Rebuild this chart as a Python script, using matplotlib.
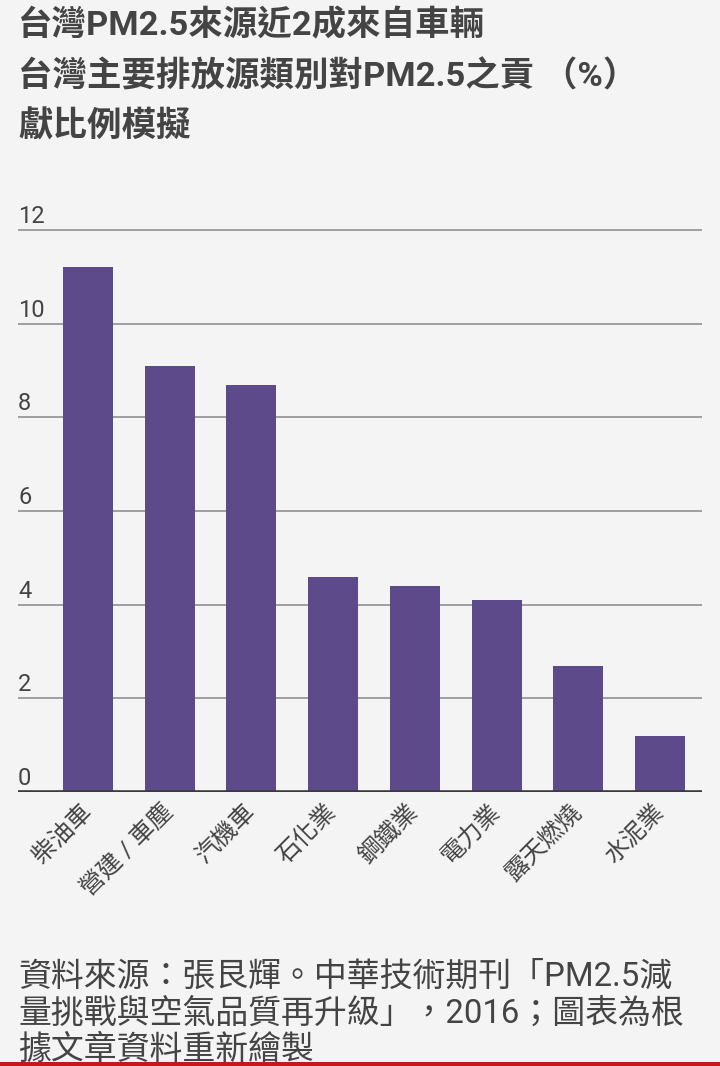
import matplotlib.pyplot as plt
from matplotlib.patches import Rectangle

plt.rcParams['font.family'] = ['Roboto', 'Noto Sans CJK TC', 'DejaVu Sans']

# data
categories = ['柴油車', '營建 / 車塵', '汽機車', '石化業', '鋼鐵業', '電力業', '露天燃燒', '水泥業']
values = [11.2, 9.1, 8.7, 4.6, 4.4, 4.1, 2.7, 1.2]
yticks = [0, 2, 4, 6, 8, 10, 12]

title_lines = ['台灣PM2.5來源近2成來自車輛',
               '台灣主要排放源類別對PM2.5之貢 （%）',
               '獻比例模擬']
source_lines = ['資料來源：張艮輝。中華技術期刊「PM2.5減',
                '量挑戰與空氣品質再升級」，2016；圖表為根',
                '據文章資料重新繪製']

bg = '#f4f4f4'
bar_color = '#5c4a8a'
text_color = '#444444'

W, H = 720, 1066
fig = plt.figure(figsize=(W / 100, H / 100), dpi=100, facecolor=bg)

# axes placement in pixels
left, right, bottom = 18, 702, 792
ymax = 12.6
px_per_unit = (792 - 230) / 12
top = bottom - ymax * px_per_unit
ax = fig.add_axes([left / W, 1 - bottom / H, (right - left) / W, (bottom - top) / H])
ax.set_facecolor(bg)

x = list(range(len(categories)))
ax.bar(x, values, width=0.612, color=bar_color, zorder=3)
ax.set_xlim(-0.857, 7.514)
ax.set_ylim(0, ymax)

for s in ax.spines.values():
    s.set_visible(False)
ax.set_yticks(yticks)
ax.set_yticklabels([])
ax.tick_params(axis='both', length=0)
for v in yticks[1:]:
    ax.axhline(v, color='#9e9e9e', lw=1.4, zorder=1)
ax.axhline(0, color='#3a3a3a', lw=2.6, zorder=4)

for v in yticks:
    ax.annotate(str(v), xy=(0, v), xycoords=('axes fraction', 'data'),
                xytext=(0, 5), textcoords='offset points',
                ha='left', va='baseline', fontsize=17, color=text_color)

ax.set_xticks(x)
ax.set_xticklabels(categories, rotation=45, ha='right', va='center',
                   rotation_mode='anchor', fontsize=17.5, color=text_color)
ax.tick_params(axis='x', pad=12)

# title
for i, line in enumerate(title_lines):
    fig.text(18 / W, 1 - (26 + 50.5 * i) / H, line, ha='left', va='center',
             fontsize=24.8, fontweight='bold', color=text_color)

# source
for i, line in enumerate(source_lines):
    fig.text(18 / W, 1 - (977 + 36.5 * i) / H, line, ha='left', va='center',
             fontsize=23.7, color=text_color)

fig.add_artist(Rectangle((0, 0), 1, 4.5 / H, transform=fig.transFigure,
                         facecolor='#c8161d', edgecolor='none', zorder=10))

fig.savefig('out.png', dpi=100, facecolor=bg)
